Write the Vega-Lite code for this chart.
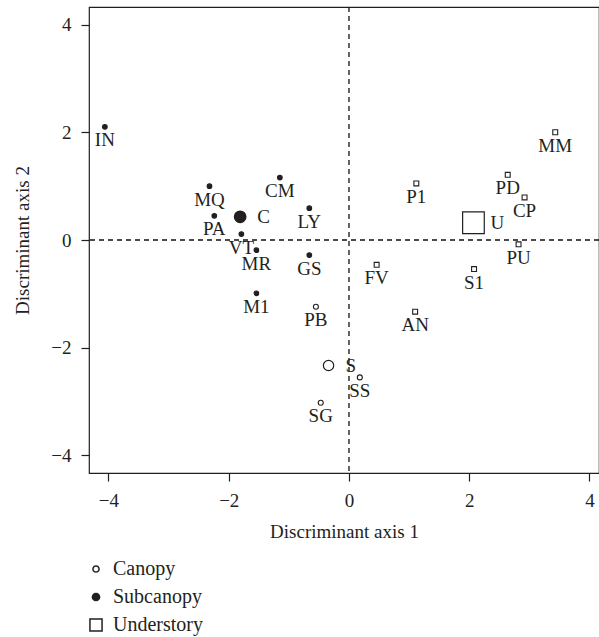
{
  "$schema": "https://vega.github.io/schema/vega-lite/v6.json",
  "width": 510,
  "height": 466,
  "autosize": {"type": "none"},
  "padding": {"left": 89, "top": 7, "right": 0, "bottom": 164},
  "background": "white",
  "config": {
    "font": "Liberation Serif",
    "view": {"stroke": "#231f20", "strokeWidth": 1.2},
    "axis": {
      "domain": false, "grid": false,
      "tickColor": "#231f20", "tickSize": 8, "tickWidth": 1.2,
      "labelFont": "Liberation Serif", "labelFontSize": 19, "labelColor": "#231f20",
      "titleFont": "Liberation Serif", "titleFontSize": 19, "titleFontWeight": "normal", "titleColor": "#231f20"
    },
    "legend": {
      "labelFont": "Liberation Serif", "labelFontSize": 20, "labelColor": "#231f20",
      "padding": 0, "rowPadding": 8, "labelOffset": 7, "symbolSize": 147
    }
  },
  "resolve": {"scale": {"size": "independent"}},
  "datasets": {
    "species": [
      {"label": "IN", "x": -4.06, "y": 2.10, "stratum": "Subcanopy"},
      {"label": "MQ", "x": -2.32, "y": 1.00, "stratum": "Subcanopy"},
      {"label": "CM", "x": -1.15, "y": 1.16, "stratum": "Subcanopy"},
      {"label": "PA", "x": -2.24, "y": 0.45, "stratum": "Subcanopy"},
      {"label": "VT", "x": -1.79, "y": 0.11, "stratum": "Subcanopy"},
      {"label": "MR", "x": -1.54, "y": -0.19, "stratum": "Subcanopy"},
      {"label": "M1", "x": -1.54, "y": -0.99, "stratum": "Subcanopy"},
      {"label": "LY", "x": -0.66, "y": 0.59, "stratum": "Subcanopy"},
      {"label": "GS", "x": -0.66, "y": -0.28, "stratum": "Subcanopy"},
      {"label": "PB", "x": -0.55, "y": -1.24, "stratum": "Canopy"},
      {"label": "SS", "x": 0.18, "y": -2.55, "stratum": "Canopy"},
      {"label": "SG", "x": -0.47, "y": -3.02, "stratum": "Canopy"},
      {"label": "MM", "x": 3.43, "y": 2.00, "stratum": "Understory"},
      {"label": "PD", "x": 2.64, "y": 1.21, "stratum": "Understory"},
      {"label": "P1", "x": 1.12, "y": 1.05, "stratum": "Understory"},
      {"label": "CP", "x": 2.92, "y": 0.79, "stratum": "Understory"},
      {"label": "PU", "x": 2.82, "y": -0.08, "stratum": "Understory"},
      {"label": "FV", "x": 0.46, "y": -0.46, "stratum": "Understory"},
      {"label": "S1", "x": 2.08, "y": -0.54, "stratum": "Understory"},
      {"label": "AN", "x": 1.10, "y": -1.33, "stratum": "Understory"}
    ],
    "centroids": [
      {"label": "C", "x": -1.81, "y": 0.43, "stratum": "Subcanopy"},
      {"label": "S", "x": -0.34, "y": -2.33, "stratum": "Canopy"},
      {"label": "U", "x": 2.07, "y": 0.32, "stratum": "Understory"}
    ],
    "vref": [{"x": 0}],
    "href": [{"y": 0}]
  },
  "layer": [
    {
      "data": {"name": "vref"},
      "mark": {"type": "rule", "strokeDash": [5, 4], "color": "#111111", "strokeWidth": 1.3},
      "encoding": {
        "x": {"field": "x", "type": "quantitative", "scale": {"domain": [-4.324, 4.158], "nice": false, "zero": false}, "axis": {"values": [-4, -2, 0, 2, 4], "format": "d", "labelPadding": 10, "titlePadding": 12}, "title": "Discriminant axis 1"}
      }
    },
    {
      "data": {"name": "href"},
      "mark": {"type": "rule", "strokeDash": [5, 4], "color": "#111111", "strokeWidth": 1.3},
      "encoding": {
        "y": {"field": "y", "type": "quantitative", "scale": {"domain": [-4.325, 4.325], "nice": false, "zero": false}, "axis": {"values": [-4, -2, 0, 2, 4], "format": "d", "labelPadding": 10, "titlePadding": 18}, "title": "Discriminant axis 2"}
      }
    },
    {
      "data": {"name": "species"},
      "mark": {"type": "point", "filled": true, "stroke": "#231f20", "strokeWidth": 1.1, "opacity": 1},
      "encoding": {
        "x": {"field": "x", "type": "quantitative", "title": "Discriminant axis 1"},
        "y": {"field": "y", "type": "quantitative", "title": "Discriminant axis 2"},
        "shape": {"field": "stratum", "type": "nominal",
          "scale": {"domain": ["Canopy", "Subcanopy", "Understory"], "range": [
            "M0.503,0A0.503,0.503,0,1,1,-0.503,0A0.503,0.503,0,1,1,0.503,0Z",
            "M0.594,0A0.594,0.594,0,1,1,-0.594,0A0.594,0.594,0,1,1,0.594,0Z",
            "M-1,-1H1V1H-1Z"]},
          "legend": {"orient": "none", "legendX": -3, "legendY": 552, "title": null,
            "encode": {"symbols": {"update": {"stroke": {"value": "#231f20"}, "strokeWidth": {"value": 1.2}}}}}},
        "fill": {"field": "stratum", "type": "nominal",
          "scale": {"domain": ["Canopy", "Subcanopy", "Understory"], "range": ["#ffffff", "#231f20", "#ffffff"]},
          "legend": {"orient": "none", "legendX": -3, "legendY": 552, "title": null,
            "encode": {"symbols": {"update": {"stroke": {"value": "#231f20"}, "strokeWidth": {"value": 1.2}}}}}},
        "size": {"field": "stratum", "type": "ordinal",
          "scale": {"domain": ["Canopy", "Subcanopy", "Understory"], "range": [99, 24, 21]}, "legend": null}
      }
    },
    {
      "data": {"name": "centroids"},
      "mark": {"type": "point", "filled": true, "stroke": "#231f20", "strokeWidth": 1.2, "opacity": 1},
      "encoding": {
        "x": {"field": "x", "type": "quantitative"},
        "y": {"field": "y", "type": "quantitative"},
        "shape": {"field": "stratum", "type": "nominal"},
        "fill": {"field": "stratum", "type": "nominal"},
        "size": {"field": "label", "type": "ordinal", "scale": {"domain": ["C", "S", "U"], "range": [381, 469, 275]}, "legend": null}
      }
    },
    {
      "data": {"name": "species"},
      "mark": {"type": "text", "baseline": "alphabetic", "align": "center", "dy": 19.5, "fontSize": 19, "color": "#231f20", "font": "Liberation Serif"},
      "encoding": {
        "x": {"field": "x", "type": "quantitative"},
        "y": {"field": "y", "type": "quantitative"},
        "text": {"field": "label"}
      }
    },
    {
      "data": {"name": "centroids"},
      "mark": {"type": "text", "baseline": "alphabetic", "align": "left", "dx": 17, "dy": 6.5, "fontSize": 19, "color": "#231f20", "font": "Liberation Serif"},
      "encoding": {
        "x": {"field": "x", "type": "quantitative"},
        "y": {"field": "y", "type": "quantitative"},
        "text": {"field": "label"}
      }
    }
  ]
}
